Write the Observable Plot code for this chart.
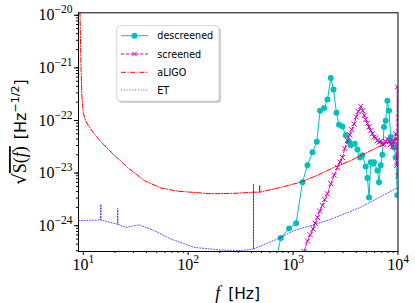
<!DOCTYPE html>
<html><head><meta charset="utf-8">
<script src="https://cdn.jsdelivr.net/npm/d3@7"></script>
<script src="https://cdn.jsdelivr.net/npm/@observablehq/plot@0.6"></script>
<style>body{margin:0;background:#fff} svg{display:block}</style>
</head><body><div id="chart"></div>
<script>
// ---- data ----
const seriesNames = ["descreened", "screened", "aLIGO", "ET"];

const descF = [690, 763, 916, 1068, 1230, 1371, 1531, 1683, 1808, 1974, 2127, 2286, 2426, 2590, 2742, 2952, 3175, 3414, 3545, 3870, 4103, 4345, 4580, 4922, 5113, 5297, 5495, 5703, 5902, 6363, 6590, 6840, 7096, 7355, 7634, 7925, 8209, 8520, 8843, 9161, 9506, 9860];
const descS = [2.0e-25, 5.25e-25, 7.94e-25, 1e-24, 6.03e-24, 1.26e-23, 2.24e-23, 3.55e-23, 1.38e-22, 1.55e-22, 2.24e-22, 5.75e-22, 3.47e-22, 1.26e-22, 7.41e-23, 6.92e-23, 4.68e-23, 3.55e-23, 3.02e-23, 3.24e-23, 2.51e-23, 1.78e-23, 1.95e-23, 1.20e-23, 7.24e-24, 3.09e-24, 1.45e-23, 1.35e-23, 1.45e-23, 1e-23, 6.03e-24, 1.26e-23, 2.0e-23, 6.76e-23, 8.91e-23, 2.14e-22, 1.38e-22, 4.37e-23, 3.47e-23, 2.75e-23, 1.78e-23, 3.39e-24];

const scrF = [1230, 1273, 1371, 1458, 1550, 1627, 1708, 1796, 1905, 2004, 2127, 2286, 2458, 2648, 2803, 2954, 3107, 3296, 3467, 3622, 3811, 3999, 4178, 4413, 4611, 4764, 4923, 5110, 5292, 5495, 5704, 5907, 6131, 6364, 6592, 6842, 7101, 7355, 7636, 7925, 8209, 8520, 8843, 9161, 9506, 9720, 9860, 10000, 10160];
const scrS = [2.0e-25, 2.88e-25, 4.57e-25, 6.03e-25, 7.76e-25, 1e-24, 1.29e-24, 1.70e-24, 2.19e-24, 2.82e-24, 3.63e-24, 5.62e-24, 8.13e-24, 1.15e-23, 1.45e-23, 1.78e-23, 2.63e-23, 3.72e-23, 4.79e-23, 6.03e-23, 7.76e-23, 1.05e-22, 1.32e-22, 1.66e-22, 1.38e-22, 1.12e-22, 9.33e-23, 7.94e-23, 6.76e-23, 5.75e-23, 5.01e-23, 4.37e-23, 4.17e-23, 3.72e-23, 3.47e-23, 3.63e-23, 3.16e-23, 3.24e-23, 3.55e-23, 3.98e-23, 3.72e-23, 3.16e-23, 2.82e-23, 3.55e-23, 5.01e-23, 1.26e-23, 3.89e-22, 7.94e-24, 1e-22];

const aligoF = [9.2, 9.3, 9.5, 9.7, 10.0, 10.5, 11.2, 12.7, 14.7, 18.4, 26.4, 38.1, 54.8, 79, 164, 295, 425, 480, 480, 480, 760, 1180, 1700, 2450, 3550, 5130, 7400, 10000];
const aligoS = [1.58e-20, 1e-20, 1e-21, 2.51e-22, 1.26e-22, 8.91e-23, 7.08e-23, 5.01e-23, 3.55e-23, 2.24e-23, 1.15e-23, 6.46e-24, 4.68e-24, 4.07e-24, 3.63e-24, 3.72e-24, 3.89e-24, 3.89e-24, 5.25e-24, 3.89e-24, 4.79e-24, 6.03e-24, 8.13e-24, 1.15e-23, 1.55e-23, 2.24e-23, 3.24e-23, 4.17e-23];

const etF = [9.0, 14.7, 14.7, 14.7, 21.3, 21.3, 21.3, 25.5, 34.1, 47.4, 68.5, 114, 205, 317, 419, 419, 419, 710, 1020, 2110, 4380, 10000];
const etS = [1.12e-24, 1.15e-24, 2.29e-24, 1.15e-24, 9.55e-25, 1.91e-24, 9.55e-25, 8.32e-25, 9.33e-25, 7.24e-25, 5.01e-25, 3.47e-25, 3.09e-25, 3.02e-25, 3.24e-25, 5.62e-24, 3.24e-25, 5.01e-25, 7.24e-25, 1.12e-24, 2.0e-24, 4.79e-24];

const xTicks = [10, 100, 1000, 10000];
const xTickLabels = ["10^1", "10^2", "10^3", "10^4"];
const yTicks = [1e-24, 1e-23, 1e-22, 1e-21, 1e-20];
const yTickLabels = ["10^\u221224", "10^\u221223", "10^\u221222", "10^\u221221", "10^\u221220"];

// ---- build tables ----
const rows = (F, S) => F.map((f, i) => ({f, s: S[i]}));
const desc = rows(descF, descS), scr = rows(scrF, scrS), aligo = rows(aligoF, aligoS), et = rows(etF, etS);

const minorX = [];
for (const d of [10, 100, 1000]) for (let k = 2; k <= 9; k++) minorX.push(k * d);
const minorY = [];
for (const e of [-25, -24, -23, -22, -21]) for (let k = 2; k <= 9; k++) { const v = k * Math.pow(10, e); if (v >= 2.9e-25 && v < 1e-20) minorY.push(v); }

const CY = "#00bfbf", MG = "#bf00bf", RD = "#ff0000", BL = "#0000ff";
const dashDot = "5,1.6,1,1.6", dashed = "3.2,1.6", dotted = "1,1.8";

const chart = Plot.plot({
  width: 415, height: 303,
  marginLeft: 78, marginRight: 17.5, marginTop: 12.3, marginBottom: 52,
  x: {type: "log", domain: [9, 1e4]},
  y: {type: "log", domain: [2.9e-25, 1e-20]},
  style: {fontFamily: "'Liberation Serif', serif", fontSize: "16px", color: "black", background: "white"},
  marks: [
    Plot.axisX(minorX, {tickSize: 2, text: null, label: null}),
    Plot.axisY(minorY, {tickSize: 2, text: null, label: null}),
    Plot.axisX(xTicks, {tickSize: 4, tickPadding: 3, tickFormat: d => xTickLabels[xTicks.indexOf(d)], label: null, fontSize: 16}),
    Plot.axisY(yTicks, {tickSize: 4, tickPadding: 2, dy: 2.5, tickFormat: d => yTickLabels[yTicks.indexOf(d)], label: null, fontSize: 16}),
    Plot.line(desc, {x: "f", y: "s", stroke: CY, strokeWidth: 1, clip: true}),
    Plot.dot(desc, {x: "f", y: "s", fill: CY, r: 3, clip: true}),
    Plot.line(scr, {x: "f", y: "s", stroke: MG, strokeWidth: 1, strokeDasharray: dashed, clip: true}),
    Plot.dot(scr, {x: "f", y: "s", stroke: MG, symbol: "times", r: 2.4, strokeWidth: 1, clip: true}),
    Plot.line(aligo, {x: "f", y: "s", stroke: RD, strokeWidth: 1, strokeDasharray: dashDot, clip: true}),
    Plot.line(et, {x: "f", y: "s", stroke: BL, strokeWidth: 1, strokeOpacity: 0.7, strokeDasharray: dotted, clip: true}),
    Plot.frame({stroke: "black", strokeWidth: 1})
  ]
});
document.getElementById("chart").appendChild(chart);

// superscripts on tick labels
chart.querySelectorAll("text").forEach(el => {
  const t = el.textContent;
  if (t.includes("^")) {
    const [b, e] = t.split("^");
    el.textContent = "";
    const ns = "http://www.w3.org/2000/svg";
    const t1 = document.createElementNS(ns, "tspan"); t1.textContent = b; el.appendChild(t1);
    const t2 = document.createElementNS(ns, "tspan"); t2.textContent = e;
    t2.setAttribute("dy", "-7"); t2.setAttribute("font-size", "11.5"); el.appendChild(t2);
  }
});

const svg = d3.select(chart);

// axis labels
const xl = svg.append("text").attr("x", 237.6).attr("y", 299).attr("text-anchor", "middle").attr("fill", "black");
xl.append("tspan").attr("font-family", "'Liberation Serif', serif").attr("font-style", "italic").attr("font-size", 18).text("f");
xl.append("tspan").attr("dx", 8).attr("font-family", "'DejaVu Sans', sans-serif").attr("font-size", 15.5).text("[Hz]");

const yl = svg.append("text").attr("transform", "translate(26,132) rotate(-90)").attr("text-anchor", "middle").attr("fill", "black");
yl.append("tspan").attr("font-family", "'DejaVu Serif', serif").attr("font-size", 18).text("\u221A");
yl.append("tspan").attr("font-family", "'Liberation Serif', serif").attr("font-size", 18).style("text-decoration", "overline").text("S(");
yl.append("tspan").attr("font-family", "'Liberation Serif', serif").attr("font-style", "italic").attr("font-size", 18).style("text-decoration", "overline").text("f");
yl.append("tspan").attr("font-family", "'Liberation Serif', serif").attr("font-size", 18).style("text-decoration", "overline").text(")");
yl.append("tspan").attr("dx", 7).attr("font-family", "'DejaVu Sans', sans-serif").attr("font-size", 16).text("[Hz");
yl.append("tspan").attr("dy", -7).attr("font-family", "'DejaVu Sans', sans-serif").attr("font-size", 11).text("\u22121/2");
yl.append("tspan").attr("dy", 7).attr("font-family", "'DejaVu Sans', sans-serif").attr("font-size", 16).text("]");

// legend
const lg = svg.append("g").attr("text-anchor", "start");
lg.append("rect").attr("x", 118.7).attr("y", 27.7).attr("width", 102.3).attr("height", 75.3).attr("rx", 3).attr("fill", "#aaa").attr("opacity", 0.6);
lg.append("rect").attr("x", 116.7).attr("y", 25.7).attr("width", 102.3).attr("height", 75.3).attr("rx", 3).attr("fill", "white").attr("stroke", "#d5d5d5").attr("stroke-width", 1);
const styles = [
  {stroke: CY, dash: null, marker: "dot"},
  {stroke: MG, dash: dashed, marker: "x"},
  {stroke: RD, dash: dashDot, marker: null},
  {stroke: BL, dash: dotted, marker: null}
];
const ys = [35.7, 54, 72.3, 90];
seriesNames.forEach((name, i) => {
  const y = ys[i], s = styles[i];
  const ln = lg.append("line").attr("x1", 121).attr("x2", 148).attr("y1", y).attr("y2", y).attr("stroke", s.stroke).attr("stroke-width", 1);
  if (s.dash) ln.attr("stroke-dasharray", s.dash);
  if (i === 3) ln.attr("stroke-opacity", 0.7);
  if (s.marker === "dot") lg.append("circle").attr("cx", 134.5).attr("cy", y).attr("r", 3).attr("fill", s.stroke);
  if (s.marker === "x") {
    lg.append("path").attr("d", `M${134.5-2.2},${y-2.2}L${134.5+2.2},${y+2.2}M${134.5-2.2},${y+2.2}L${134.5+2.2},${y-2.2}`).attr("stroke", s.stroke).attr("stroke-width", 1);
  }
  lg.append("text").attr("x", 157.3).attr("y", y + 3.5).attr("text-anchor", "start").attr("font-family", "'DejaVu Sans', sans-serif").attr("font-size", 9.6).attr("fill", "black").text(name);
});
</script>
</body></html>
